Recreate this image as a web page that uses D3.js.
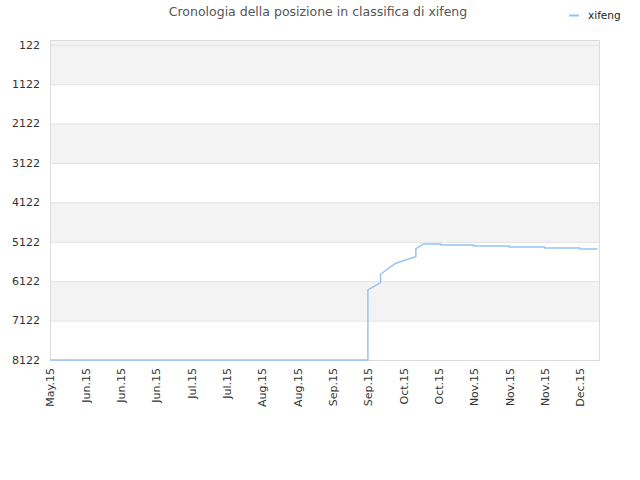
<!DOCTYPE html>
<html>
<head>
<meta charset="utf-8">
<script src="https://cdn.jsdelivr.net/npm/d3@7"></script>
<style>
  body { margin: 0; background: #fff; }
  svg { font-family: "DejaVu Sans", sans-serif; }
</style>
</head>
<body>
<div id="chart"></div>
<script>
// Ranking history of xifeng (lower = better)
const SERIES_NAME = "xifeng";
const TITLE = "Cronologia della posizione in classifica di xifeng";

const dates = [
  "2015-05-18", "2015-09-21", "2015-09-21", "2015-09-26", "2015-09-26",
  "2015-10-02", "2015-10-10", "2015-10-10", "2015-10-13", "2015-10-20",
  "2015-10-20", "2015-11-02", "2015-11-02", "2015-11-16", "2015-11-16",
  "2015-11-30", "2015-11-30", "2015-12-14", "2015-12-14", "2015-12-21"
];
const ranks = [
  8122, 8122, 6344, 6159, 5946,
  5666, 5498, 5303, 5176, 5176,
  5201, 5201, 5227, 5227, 5252,
  5252, 5277, 5277, 5303, 5303
];

const yTicks = [122, 1122, 2122, 3122, 4122, 5122, 6122, 7122, 8122];
const xStart = "2015-05-18";
const xEnd = "2015-12-22";
const tickStepDays = 14;
const tickCount = 16;

const W = 640, H = 480;
const margin = { top: 40, right: 40, bottom: 120, left: 50 };
const parse = d3.timeParse("%Y-%m-%d");

const data = dates.map((d, i) => ({ date: parse(d), rank: ranks[i] }));

const svg = d3.select("#chart").append("svg")
  .attr("width", W)
  .attr("height", H);

const x = d3.scaleTime()
  .domain([parse(xStart), parse(xEnd)])
  .range([margin.left, W - margin.right]);

const y = d3.scaleLinear()
  .domain([0, 8122])
  .range([margin.top, H - margin.bottom]);

// alternating bands
const bands = [[0, 1122], [2122, 3122], [4122, 5122], [6122, 7122]];
svg.append("g").selectAll("rect")
  .data(bands)
  .enter().append("rect")
  .attr("x", margin.left)
  .attr("width", W - margin.right - margin.left)
  .attr("y", d => y(d[0]))
  .attr("height", d => y(d[1]) - y(d[0]))
  .attr("fill", "#f3f3f3");

// grid lines
svg.append("g").selectAll("line")
  .data(yTicks)
  .enter().append("line")
  .attr("x1", margin.left)
  .attr("x2", W - margin.right)
  .attr("y1", d => y(d) + 0.5)
  .attr("y2", d => y(d) + 0.5)
  .attr("stroke", "#e2e2e2");

// frame
svg.append("rect")
  .attr("x", margin.left + 0.5)
  .attr("y", margin.top + 0.5)
  .attr("width", W - margin.right - margin.left - 1)
  .attr("height", H - margin.bottom - margin.top)
  .attr("fill", "none")
  .attr("stroke", "#dcdcdc");

// y labels
svg.append("g").selectAll("text")
  .data(yTicks)
  .enter().append("text")
  .attr("x", margin.left - 10)
  .attr("y", d => y(d))
  .attr("dy", "0.35em")
  .attr("text-anchor", "end")
  .attr("font-size", 11)
  .attr("fill", "#333")
  .text(d => d);

// x axis: one tick every two weeks
const xTicks = d3.range(0, tickCount).map(i => d3.timeDay.offset(parse(xStart), i * tickStepDays));
const fmt = d3.timeFormat("%b.%y");

const xAxis = svg.append("g")
  .attr("transform", `translate(0,${H - margin.bottom})`)
  .call(d3.axisBottom(x).tickValues(xTicks).tickFormat(fmt).tickSize(0).tickPadding(0));
xAxis.select(".domain").remove();
xAxis.selectAll("text")
  .attr("font-family", "DejaVu Sans, sans-serif")
  .attr("font-size", 11)
  .attr("fill", "#333")
  .attr("transform", "rotate(-90)")
  .attr("text-anchor", "end")
  .attr("x", -8)
  .attr("y", 0)
  .attr("dy", "0.35em");

// line
const line = d3.line()
  .x(d => x(d.date))
  .y(d => y(d.rank));

svg.append("path")
  .datum(data)
  .attr("d", line)
  .attr("fill", "none")
  .attr("stroke", "#95c4f2")
  .attr("stroke-width", 1.5);

// title
svg.append("text")
  .attr("x", 318)
  .attr("y", 16)
  .attr("text-anchor", "middle")
  .attr("font-size", 12.5)
  .attr("fill", "#555")
  .text(TITLE);

// legend
svg.append("line")
  .attr("x1", 569).attr("x2", 579)
  .attr("y1", 15.5).attr("y2", 15.5)
  .attr("stroke", "#95c4f2")
  .attr("stroke-width", 2);
svg.append("text")
  .attr("x", 588)
  .attr("y", 15)
  .attr("dy", "0.35em")
  .attr("font-size", 10.5)
  .attr("fill", "#222")
  .text(SERIES_NAME);
</script>
</body>
</html>
